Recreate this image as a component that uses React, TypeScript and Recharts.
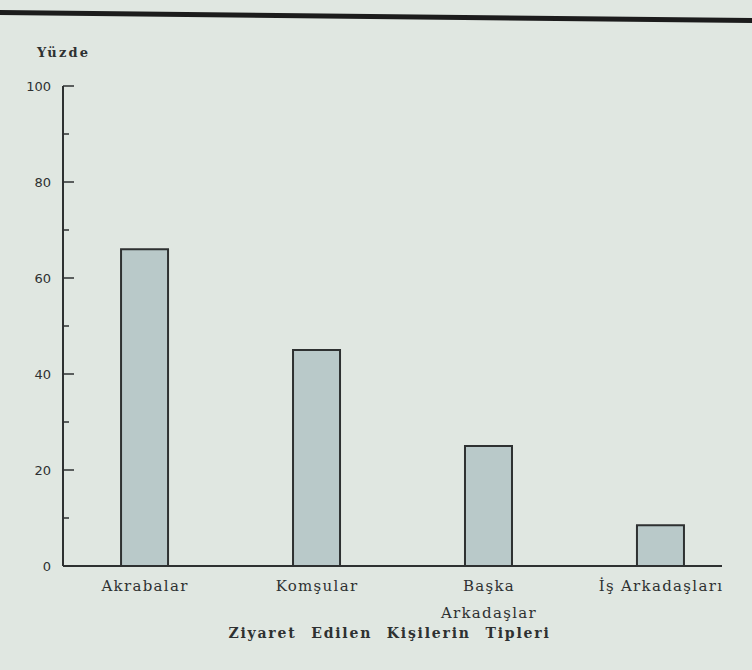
import React from 'react';
import { BarChart, Bar, XAxis, YAxis, Label } from 'recharts';

const CATEGORIES = ['Akrabalar', 'Komşular', 'Başka Arkadaşlar', 'İş Arkadaşları'];
const TICK_LINES = [['Akrabalar'], ['Komşular'], ['Başka', 'Arkadaşlar'], ['İş  Arkadaşları']];
const PERCENTS = [66, 45, 25, 8.5];
const Y_TICKS = [0, 10, 20, 30, 40, 50, 60, 70, 80, 90, 100];

const data = CATEGORIES.map((name, i) => ({ name, pos: i, value: PERCENTS[i] }));

const INK = '#2e3131';
const SERIF = '"DejaVu Serif", serif';

const XTick = (props: any) => {
  const { x, y, payload } = props;
  const lines = TICK_LINES[payload.value] || [];
  return (
    <text x={x} y={y + 17} textAnchor="middle" fill={INK} fontFamily={SERIF} fontSize={15} letterSpacing={1.3}>
      {lines.map((l, i) => (
        <tspan key={i} x={x} dy={i === 0 ? 0 : 27}>{l}</tspan>
      ))}
    </text>
  );
};

const YTick = (props: any) => {
  const { x, y, payload } = props;
  const major = payload.value % 20 === 0;
  return (
    <g>
      <line x1={x} x2={x + (major ? 11 : 6)} y1={y} y2={y} stroke={INK} strokeWidth={1.5} />
      {major && (
        <text x={x - 12} y={y + 5} textAnchor="end" fill={INK} fontFamily='"DejaVu Sans", sans-serif' fontSize={13}>
          {payload.value}
        </text>
      )}
    </g>
  );
};

export default function App() {
  return (
    <div style={{ position: 'absolute', left: 0, top: 0, width: 752, height: 670, background: '#e0e7e1', overflow: 'hidden' }}>
      <div style={{ position: 'absolute', left: -10, top: 10, width: 780, height: 5, background: '#1c1c1c', transform: 'rotate(0.6deg)', transformOrigin: 'left center' }} />
      <div style={{ position: 'absolute', left: 37, top: 45, fontFamily: SERIF, fontWeight: 'bold', fontSize: 13, letterSpacing: 2.2, color: INK }}>Yüzde</div>
      <BarChart width={752} height={670} data={data} margin={{ top: 86, right: 30, bottom: 0, left: 0 }}>
        <XAxis
          type="number"
          dataKey="pos"
          domain={[-0.477, 3.355]}
          ticks={[0, 1, 2, 3]}
          allowDataOverflow
          tickLine={false}
          axisLine={{ stroke: INK, strokeWidth: 2 }}
          tick={<XTick />}
          height={104}
        >
          <Label
            value="Ziyaret Edilen Kişilerin Tipleri"
            position="insideBottom"
            offset={32}
            fill={INK}
            fontFamily={SERIF}
            fontWeight="bold"
            fontSize={14}
            letterSpacing={1.8}
            wordSpacing={8}
            dx={-3}
          />
        </XAxis>
        <YAxis
          type="number"
          domain={[0, 100]}
          ticks={Y_TICKS}
          interval={0}
          width={63}
          tickSize={0}
          tickMargin={0}
          tickLine={false}
          axisLine={{ stroke: INK, strokeWidth: 2 }}
          tick={<YTick />}
        />
        <Bar dataKey="value" barSize={47} fill="#b9c9c9" stroke={INK} strokeWidth={2} isAnimationActive={false} />
      </BarChart>
    </div>
  );
}
